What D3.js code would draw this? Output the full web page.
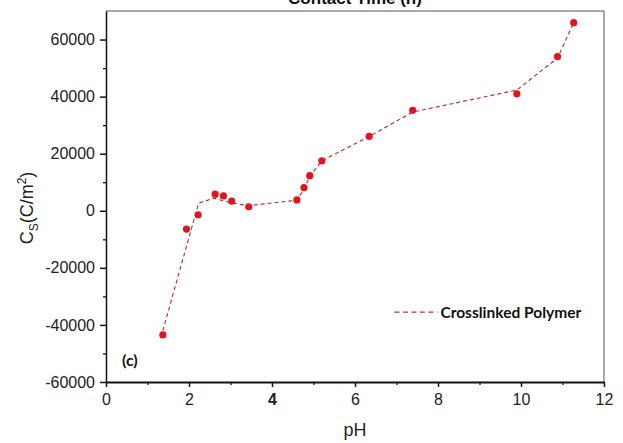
<!DOCTYPE html>
<html>
<head>
<meta charset="utf-8">
<script src="https://cdn.jsdelivr.net/npm/d3@7"></script>
<style>
  body { margin: 0; background: #fff; }
  svg text { font-family: "Liberation Sans", Arial, sans-serif; }
</style>
</head>
<body>
<svg id="chart" width="623" height="443"></svg>
<script>
// measured points
const pH = [1.37, 1.94, 2.22, 2.63, 2.83, 3.03, 3.44, 4.6, 4.77, 4.91, 5.2, 6.34, 7.39, 9.9, 10.88, 11.27];
const Cs = [-43500, -6400, -1400, 5800, 5200, 3400, 1400, 3800, 8100, 12300, 17500, 26100, 35200, 41000, 54000, 65900];

// dashed guide line (drawn separately from markers)
const pHLine = [1.37, 2.23, 2.6, 3.03, 3.44, 4.6, 4.77, 4.91, 5.2, 6.34, 7.39, 9.9, 10.88, 11.27];
const CsLine = [-42000, 2600, 4400, 2700, 1800, 3700, 7600, 12000, 17500, 26000, 34600, 42300, 53500, 65900];

const xTicks = [0, 2, 4, 6, 8, 10, 12];
const xMinor = [1, 3, 5, 7, 9, 11];
const yTicks = [-60000, -40000, -20000, 0, 20000, 40000, 60000];
const yMinor = [-50000, -30000, -10000, 10000, 30000, 50000];

const svg = d3.select('#chart');
const margin = { top: 11, right: 19, bottom: 61, left: 106 };
const width = +svg.attr('width');
const height = +svg.attr('height');
const innerWidth = width - margin.left - margin.right;
const innerHeight = height - margin.top - margin.bottom;

const x = d3.scaleLinear().domain([0, 12]).range([0, innerWidth]);
const y = d3.scaleLinear().domain([-60000, 70000]).range([innerHeight, 0]);

const g = svg.append('g')
  .attr('transform', `translate(${margin.left},${margin.top})`);

// frame top / right
g.append('path')
  .attr('d', `M0,0H${innerWidth}V${innerHeight}`)
  .attr('fill', 'none')
  .attr('stroke', '#555')
  .attr('stroke-width', 1);

// minor ticks
g.append('g')
  .attr('transform', `translate(0,${innerHeight})`)
  .call(d3.axisBottom(x).tickValues(xMinor).tickSize(3).tickFormat(''))
  .call(a => a.select('.domain').remove())
  .selectAll('line').attr('stroke', '#111').attr('stroke-width', 1.3);

g.append('g')
  .call(d3.axisLeft(y).tickValues(yMinor).tickSize(3).tickFormat(''))
  .call(a => a.select('.domain').remove())
  .selectAll('line').attr('stroke', '#111').attr('stroke-width', 1.3);

// x axis
const xAxis = g.append('g')
  .attr('transform', `translate(0,${innerHeight})`)
  .call(d3.axisBottom(x).tickValues(xTicks).tickSize(5).tickSizeOuter(0).tickPadding(7).tickFormat(d => String(d)));
xAxis.select('.domain').attr('stroke', '#111').attr('stroke-width', 2);
xAxis.selectAll('line').attr('stroke', '#111').attr('stroke-width', 1.5);
xAxis.selectAll('text')
  .style('font-family', '"Liberation Sans", Arial, sans-serif')
  .style('font-size', '16px')
  .attr('fill', '#222')
  .style('font-weight', d => d === 4 ? 'bold' : 'normal');

// y axis
const yAxis = g.append('g')
  .call(d3.axisLeft(y).tickValues(yTicks).tickSize(6).tickSizeOuter(0).tickPadding(5).tickFormat(d => String(d)));
yAxis.select('.domain').attr('stroke', '#111').attr('stroke-width', 1.5);
yAxis.selectAll('line').attr('stroke', '#111').attr('stroke-width', 1.5);
yAxis.selectAll('text')
  .style('font-family', '"Liberation Sans", Arial, sans-serif')
  .style('font-size', '16px')
  .attr('fill', '#222');

// dashed line
const lineData = pHLine.map((p, i) => ({ x: p, y: CsLine[i] }));
g.append('path')
  .datum(lineData)
  .attr('fill', 'none')
  .attr('stroke', '#b5272b')
  .attr('stroke-width', 1.1)
  .attr('stroke-dasharray', '4,3')
  .attr('d', d3.line().x(d => x(d.x)).y(d => y(d.y)));

// markers
g.append('g')
  .selectAll('circle')
  .data(pH.map((p, i) => ({ x: p, y: Cs[i] })))
  .join('circle')
  .attr('cx', d => x(d.x))
  .attr('cy', d => y(d.y))
  .attr('r', 3.6)
  .attr('fill', '#e0141a');

// legend
const lg = g.append('g').attr('transform', `translate(${x(6.95)},${y(-35500)})`);
lg.append('line')
  .attr('x1', 0).attr('x2', 43)
  .attr('stroke', '#d0262a')
  .attr('stroke-width', 1.1)
  .attr('stroke-dasharray', '5,3.5');
lg.append('text')
  .attr('x', 46)
  .attr('dy', '0.35em')
  .style('font-family', 'Lato, "Open Sans", sans-serif')
  .style('font-weight', 'bold')
  .style('font-size', '15.5px')
  .attr('fill', '#111')
  .text('Crosslinked Polymer');

// panel label
g.append('text')
  .attr('x', 16)
  .attr('y', y(-52500))
  .attr('dy', '0.35em')
  .style('font-family', 'Lato, "Open Sans", sans-serif')
  .style('font-weight', 'bold')
  .style('font-size', '16px')
  .attr('fill', '#111')
  .text('(c)');

// title (cut off at top)
svg.append('text')
  .attr('x', margin.left + innerWidth / 2)
  .attr('y', 4)
  .attr('text-anchor', 'middle')
  .style('font-weight', 'bold')
  .style('font-size', '17px')
  .attr('fill', '#111')
  .text('Contact Time (h)');

// axis titles
svg.append('text')
  .attr('x', margin.left + innerWidth / 2)
  .attr('y', 436)
  .attr('text-anchor', 'middle')
  .style('font-size', '18px')
  .attr('fill', '#222')
  .text('pH');

const yt = svg.append('text')
  .attr('transform', `translate(33,208) rotate(-90)`)
  .attr('text-anchor', 'middle')
  .style('font-size', '18px')
  .attr('fill', '#222');
yt.append('tspan').text('C');
yt.append('tspan').attr('dy', 5).style('font-size', '12px').text('S');
yt.append('tspan').attr('dy', -5).text('(C/m');
yt.append('tspan').attr('dy', -7).style('font-size', '12px').text('2');
yt.append('tspan').attr('dy', 7).text(')');
</script>
</body>
</html>
